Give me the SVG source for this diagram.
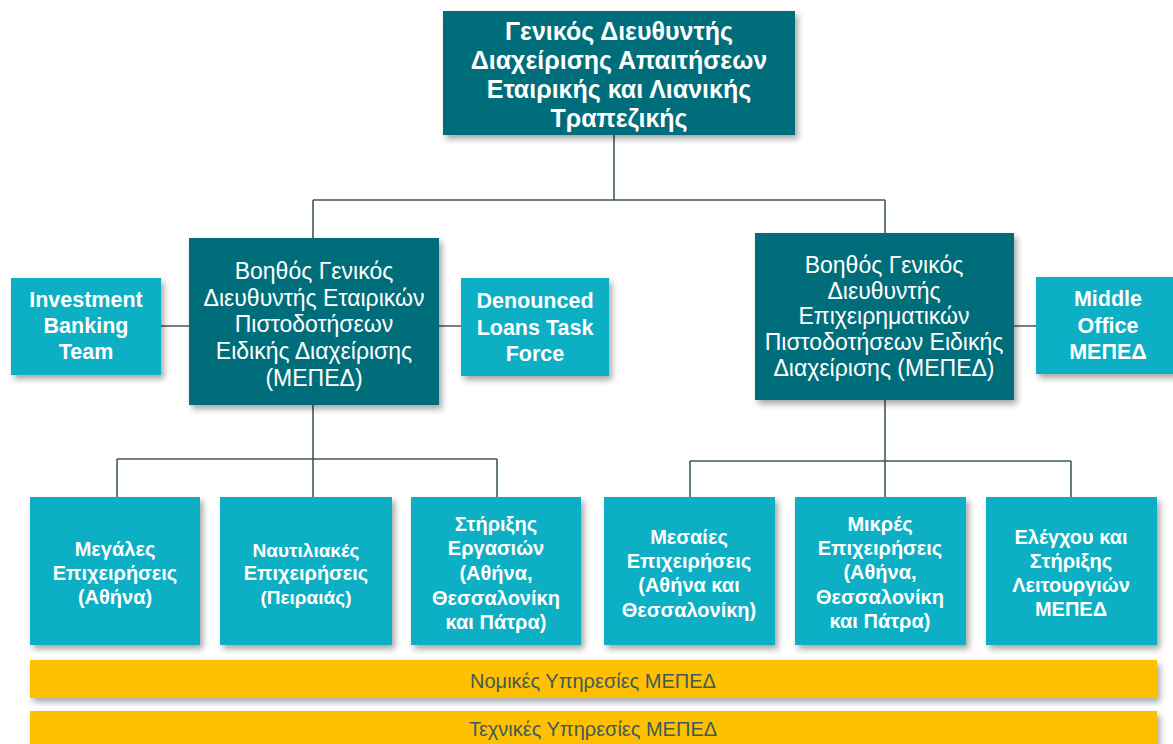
<svg xmlns="http://www.w3.org/2000/svg" width="1173" height="744" viewBox="0 0 1173 744">
<defs>
<filter id="sh" x="-10%" y="-10%" width="130%" height="130%">
<feDropShadow dx="3" dy="4" stdDeviation="3" flood-color="#000" flood-opacity="0.35"/>
</filter>
<style>
.dark{fill:#006E7A;filter:url(#sh)}
.light{fill:#0BAFC4;filter:url(#sh)}
.yel{fill:#FFC000;filter:url(#sh)}
text{font-family:"Liberation Sans",Arial,sans-serif;fill:#fff;text-anchor:middle;dominant-baseline:central}
.t1{font-size:25px;font-weight:bold}
.t2{font-size:23px}
.t3{font-size:21.5px;font-weight:bold}
.t4{font-size:20px;font-weight:bold}
.t4s{font-size:19px;font-weight:bold}
.t5{font-size:20px;fill:#3F5A5C}
.con{stroke:#3F5A5C;stroke-width:1.6;fill:none}
</style>
</defs>
<rect width="1173" height="744" fill="#fff"/>
<g id="connectors" class="con">
<path d="M614 135V200M313 200H885M313 200V238M885 200V233"/>
<path d="M161 326H189M439 326H461M1014 326H1036"/>
<path d="M313 405V459M117 459H497M117 459V497M313 459V497M497 459V497"/>
<path d="M885 400V461M690 461H1071M690 461V497M885 461V497M1071 461V497"/>
</g>
<g id="top"><rect class="dark" x="443" y="11" width="352" height="124"/>
<text class="t1"><tspan x="619" y="31">Γενικός Διευθυντής</tspan><tspan x="619" y="60">Διαχείρισης Απαιτήσεων</tspan><tspan x="619" y="89">Εταιρικής και Λιανικής</tspan><tspan x="619" y="118">Τραπεζικής</tspan></text></g>
<g id="midLeft"><rect class="dark" x="189" y="238" width="250" height="167"/>
<text class="t2"><tspan x="314" y="271">Βοηθός Γενικός</tspan><tspan x="314" y="298">Διευθυντής Εταιρικών</tspan><tspan x="314" y="324">Πιστοδοτήσεων</tspan><tspan x="314" y="351">Ειδικής Διαχείρισης</tspan><tspan x="314" y="378">(ΜΕΠΕΔ)</tspan></text></g>
<g id="midRight"><rect class="dark" x="755" y="233" width="259" height="167"/>
<text class="t2"><tspan x="884" y="265">Βοηθός Γενικός</tspan><tspan x="884" y="291">Διευθυντής</tspan><tspan x="884" y="316">Επιχειρηματικών</tspan><tspan x="884" y="342">Πιστοδοτήσεων Ειδικής</tspan><tspan x="884" y="368">Διαχείρισης (ΜΕΠΕΔ)</tspan></text></g>
<g id="ibt"><rect class="light" x="11" y="278" width="150" height="97"/>
<text class="t3"><tspan x="86" y="300">Investment</tspan><tspan x="86" y="326">Banking</tspan><tspan x="86" y="352">Team</tspan></text></g>
<g id="dltf"><rect class="light" x="461" y="278" width="148" height="98"/>
<text class="t3"><tspan x="535" y="301">Denounced</tspan><tspan x="535" y="328">Loans Task</tspan><tspan x="535" y="354">Force</tspan></text></g>
<g id="mo"><rect class="light" x="1036" y="277" width="140" height="97"/>
<text class="t3"><tspan x="1108" y="299">Middle</tspan><tspan x="1108" y="326">Office</tspan><tspan x="1108" y="352">ΜΕΠΕΔ</tspan></text></g>
<g id="b1"><rect class="light" x="30" y="497" width="170" height="148"/>
<text class="t4"><tspan x="115" y="549">Μεγάλες</tspan><tspan x="115" y="573">Επιχειρήσεις</tspan><tspan x="115" y="597">(Αθήνα)</tspan></text></g>
<g id="b2"><rect class="light" x="220" y="497" width="172" height="148"/>
<text class="t4"><tspan class="t4s" x="306" y="550">Ναυτιλιακές</tspan><tspan x="306" y="573">Επιχειρήσεις</tspan><tspan class="t4s" x="306" y="597">(Πειραιάς)</tspan></text></g>
<g id="b3"><rect class="light" x="411" y="497" width="170" height="148"/>
<text class="t4"><tspan x="496" y="524">Στήριξης</tspan><tspan x="496" y="548">Εργασιών</tspan><tspan x="496" y="573">(Αθήνα,</tspan><tspan x="496" y="598">Θεσσαλονίκη</tspan><tspan x="496" y="622">και Πάτρα)</tspan></text></g>
<g id="b4"><rect class="light" x="604" y="497" width="171" height="148"/>
<text class="t4"><tspan x="689" y="537">Μεσαίες</tspan><tspan x="689" y="561">Επιχειρήσεις</tspan><tspan x="689" y="585">(Αθήνα και</tspan><tspan x="689" y="610">Θεσσαλονίκη)</tspan></text></g>
<g id="b5"><rect class="light" x="795" y="497" width="171" height="148"/>
<text class="t4"><tspan x="880" y="524">Μικρές</tspan><tspan x="880" y="548">Επιχειρήσεις</tspan><tspan x="880" y="572">(Αθήνα,</tspan><tspan x="880" y="597">Θεσσαλονίκη</tspan><tspan x="880" y="621">και Πάτρα)</tspan></text></g>
<g id="b6"><rect class="light" x="986" y="497" width="171" height="148"/>
<text class="t4"><tspan x="1071" y="537">Ελέγχου και</tspan><tspan x="1071" y="561">Στήριξης</tspan><tspan x="1071" y="585">Λειτουργιών</tspan><tspan x="1071" y="609">ΜΕΠΕΔ</tspan></text></g>
<g id="legal"><rect class="yel" x="30" y="660" width="1127" height="38"/>
<text class="t5" x="593" y="681">Νομικές Υπηρεσίες ΜΕΠΕΔ</text></g>
<g id="tech"><rect class="yel" x="30" y="711" width="1127" height="40"/>
<text class="t5" x="593" y="729">Τεχνικές Υπηρεσίες ΜΕΠΕΔ</text></g>
</svg>
